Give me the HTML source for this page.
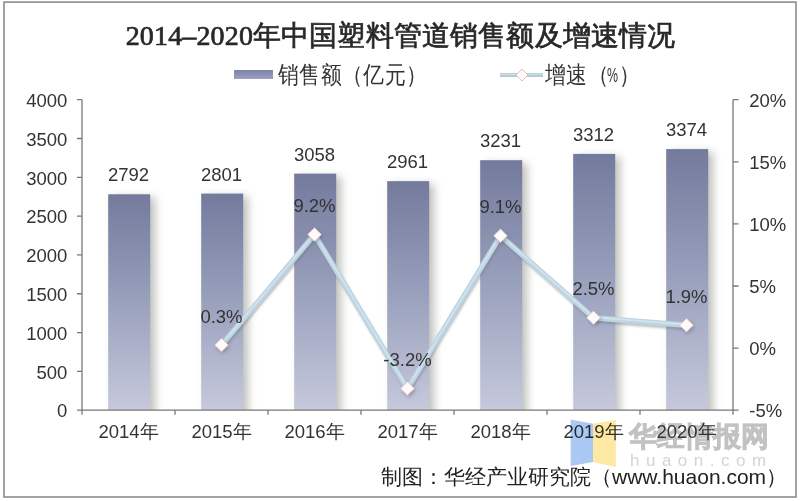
<!DOCTYPE html>
<html><head><meta charset="utf-8"><style>
html,body{margin:0;padding:0;background:#fff;width:800px;height:501px;overflow:hidden}
svg{display:block}
</style></head><body>
<svg width="800" height="501" viewBox="0 0 800 501">
<defs><linearGradient id="bg" x1="0" y1="0" x2="0" y2="1"><stop offset="0" stop-color="#737a9c"/><stop offset="0.5" stop-color="#9aa1bd"/><stop offset="1" stop-color="#c6c9dc"/></linearGradient><linearGradient id="lg" x1="0" y1="0" x2="0" y2="1"><stop offset="0" stop-color="#7d83a3"/><stop offset="1" stop-color="#9ca0c2"/></linearGradient><filter id="sh" x="-50%" y="-50%" width="200%" height="200%"><feGaussianBlur stdDeviation="2"/></filter><filter id="sh0" x="-50%" y="-50%" width="200%" height="200%"><feGaussianBlur stdDeviation="0.6"/></filter><filter id="sh1" x="-50%" y="-50%" width="200%" height="200%"><feGaussianBlur stdDeviation="1.3"/></filter><filter id="sh2" x="-50%" y="-50%" width="200%" height="200%"><feGaussianBlur stdDeviation="4"/></filter><clipPath id="pc"><rect x="0" y="0" width="800" height="410"/></clipPath></defs>
<rect x="4" y="2.1" width="792" height="494.9" fill="none" stroke="#8c8c8c" stroke-width="1.6"/>
<g clip-path="url(#pc)">
<rect x="113.20" y="197.27" width="42" height="223.93" fill="#8c8c86" opacity="0.55" filter="url(#sh2)"/>
<rect x="206.20" y="196.57" width="42" height="224.63" fill="#8c8c86" opacity="0.55" filter="url(#sh2)"/>
<rect x="299.20" y="176.62" width="42" height="244.58" fill="#8c8c86" opacity="0.55" filter="url(#sh2)"/>
<rect x="392.20" y="184.15" width="42" height="237.05" fill="#8c8c86" opacity="0.55" filter="url(#sh2)"/>
<rect x="485.20" y="163.19" width="42" height="258.01" fill="#8c8c86" opacity="0.55" filter="url(#sh2)"/>
<rect x="578.20" y="156.91" width="42" height="264.29" fill="#8c8c86" opacity="0.55" filter="url(#sh2)"/>
<rect x="671.20" y="152.09" width="42" height="269.11" fill="#8c8c86" opacity="0.55" filter="url(#sh2)"/>
</g>
<rect x="108.20" y="194.27" width="42" height="215.93" fill="url(#bg)"/>
<rect x="201.20" y="193.57" width="42" height="216.63" fill="url(#bg)"/>
<rect x="294.20" y="173.62" width="42" height="236.58" fill="url(#bg)"/>
<rect x="387.20" y="181.15" width="42" height="229.05" fill="url(#bg)"/>
<rect x="480.20" y="160.19" width="42" height="250.01" fill="url(#bg)"/>
<rect x="573.20" y="153.91" width="42" height="256.29" fill="url(#bg)"/>
<rect x="666.20" y="149.09" width="42" height="261.11" fill="url(#bg)"/>
<path d="M82,99.7 V414.7 M77,99.70 H82 M77,138.51 H82 M77,177.32 H82 M77,216.14 H82 M77,254.95 H82 M77,293.76 H82 M77,332.57 H82 M77,371.39 H82 M77,410.20 H82 M733,99.7 V410.2 M733,99.70 H738.5 M733,161.80 H738.5 M733,223.90 H738.5 M733,286.00 H738.5 M733,348.10 H738.5 M733,410.20 H738.5 M77,410.2 H738.5 M82.00,410.2 V414.7 M175.00,410.2 V414.7 M268.00,410.2 V414.7 M361.00,410.2 V414.7 M454.00,410.2 V414.7 M547.00,410.2 V414.7 M640.00,410.2 V414.7 M733.00,410.2 V414.7" fill="none" stroke="#787878" stroke-width="1.3"/>
<path d="M221.50,345.07 L314.50,234.54 L407.50,388.54 L500.50,235.78 L593.50,317.75 L686.50,325.20" transform="translate(1,2.5)" fill="none" stroke="#707880" stroke-opacity="0.45" stroke-width="5" filter="url(#sh1)"/>
<path d="M221.50,345.07 L314.50,234.54 L407.50,388.54 L500.50,235.78 L593.50,317.75 L686.50,325.20" fill="none" stroke="#bdd4e2" stroke-width="5.4" stroke-linejoin="round" filter="url(#sh0)"/>
<path d="M221.50,345.07 L314.50,234.54 L407.50,388.54 L500.50,235.78 L593.50,317.75 L686.50,325.20" transform="translate(0,-0.6)" fill="none" stroke="#d2e4ee" stroke-width="1.6" stroke-linejoin="round" filter="url(#sh0)"/>
<path d="M223.00,340.27 L229.80,347.07 L223.00,353.87 L216.20,347.07Z" fill="#505060" opacity="0.4" filter="url(#sh)"/>
<path d="M221.50,338.27 L228.30,345.07 L221.50,351.87 L214.70,345.07Z" fill="#fffafa" stroke="#e8c8c8" stroke-width="0.8"/>
<path d="M316.00,229.74 L322.80,236.54 L316.00,243.34 L309.20,236.54Z" fill="#505060" opacity="0.4" filter="url(#sh)"/>
<path d="M314.50,227.74 L321.30,234.54 L314.50,241.34 L307.70,234.54Z" fill="#fffafa" stroke="#e8c8c8" stroke-width="0.8"/>
<path d="M409.00,383.74 L415.80,390.54 L409.00,397.34 L402.20,390.54Z" fill="#505060" opacity="0.4" filter="url(#sh)"/>
<path d="M407.50,381.74 L414.30,388.54 L407.50,395.34 L400.70,388.54Z" fill="#fffafa" stroke="#e8c8c8" stroke-width="0.8"/>
<path d="M502.00,230.98 L508.80,237.78 L502.00,244.58 L495.20,237.78Z" fill="#505060" opacity="0.4" filter="url(#sh)"/>
<path d="M500.50,228.98 L507.30,235.78 L500.50,242.58 L493.70,235.78Z" fill="#fffafa" stroke="#e8c8c8" stroke-width="0.8"/>
<path d="M595.00,312.95 L601.80,319.75 L595.00,326.55 L588.20,319.75Z" fill="#505060" opacity="0.4" filter="url(#sh)"/>
<path d="M593.50,310.95 L600.30,317.75 L593.50,324.55 L586.70,317.75Z" fill="#fffafa" stroke="#e8c8c8" stroke-width="0.8"/>
<path d="M688.00,320.40 L694.80,327.20 L688.00,334.00 L681.20,327.20Z" fill="#505060" opacity="0.4" filter="url(#sh)"/>
<path d="M686.50,318.40 L693.30,325.20 L686.50,332.00 L679.70,325.20Z" fill="#fffafa" stroke="#e8c8c8" stroke-width="0.8"/>
<rect x="234" y="70" width="39" height="9" fill="url(#lg)"/>
<path d="M500,75 H543" stroke="#b4c8d6" stroke-width="4"/><path d="M500,74.3 H543" stroke="#d0e0ea" stroke-width="1.2"/>
<path d="M522,69 L528,75 L522,81 L516,75Z" fill="#fff" stroke="#e4b4b4" stroke-width="0.9"/>
<text x="629.00" y="446.00" font-family="'Liberation Sans', sans-serif" font-size="27.5" font-weight="bold" text-anchor="start" fill="#bcbcbc" stroke="#bcbcbc" stroke-width="0.9" opacity="0.9">华经情报网</text>
<text x="630.00" y="466.00" font-family="'Liberation Sans', sans-serif" font-size="17" font-weight="normal" text-anchor="start" fill="#d4d4d4" letter-spacing="6.5">huaon.com</text>
<text x="400.50" y="44.80" font-family="'Liberation Serif', serif" font-size="28" font-weight="normal" text-anchor="middle" fill="#282828" letter-spacing="0.15" stroke="#282828" stroke-width="0.7">2014–2020年中国塑料管道销售额及增速情况</text>
<g transform="translate(0,83.5) scale(1,1.15) translate(0,-83.5)">
<text x="278.00" y="83.50" font-family="'Liberation Sans', sans-serif" font-size="21" font-weight="normal" text-anchor="start" fill="#333" >销售额（亿元）</text>
<text x="545.00" y="83.50" font-family="'Liberation Sans', sans-serif" font-size="21" font-weight="normal" text-anchor="start" fill="#333" >增速（</text>
<text x="607.00" y="82.00" font-family="'Liberation Sans', sans-serif" font-size="18" font-weight="normal" text-anchor="start" fill="#333" textLength="11" lengthAdjust="spacingAndGlyphs">%</text>
<text x="619.50" y="83.50" font-family="'Liberation Sans', sans-serif" font-size="21" font-weight="normal" text-anchor="start" fill="#333" >）</text>
</g>
<text x="67.30" y="106.90" font-family="'Liberation Sans', sans-serif" font-size="18.5" font-weight="normal" text-anchor="end" fill="#333" >4000</text>
<text x="67.30" y="145.71" font-family="'Liberation Sans', sans-serif" font-size="18.5" font-weight="normal" text-anchor="end" fill="#333" >3500</text>
<text x="67.30" y="184.52" font-family="'Liberation Sans', sans-serif" font-size="18.5" font-weight="normal" text-anchor="end" fill="#333" >3000</text>
<text x="67.30" y="223.34" font-family="'Liberation Sans', sans-serif" font-size="18.5" font-weight="normal" text-anchor="end" fill="#333" >2500</text>
<text x="67.30" y="262.15" font-family="'Liberation Sans', sans-serif" font-size="18.5" font-weight="normal" text-anchor="end" fill="#333" >2000</text>
<text x="67.30" y="300.96" font-family="'Liberation Sans', sans-serif" font-size="18.5" font-weight="normal" text-anchor="end" fill="#333" >1500</text>
<text x="67.30" y="339.77" font-family="'Liberation Sans', sans-serif" font-size="18.5" font-weight="normal" text-anchor="end" fill="#333" >1000</text>
<text x="67.30" y="378.59" font-family="'Liberation Sans', sans-serif" font-size="18.5" font-weight="normal" text-anchor="end" fill="#333" >500</text>
<text x="67.30" y="417.40" font-family="'Liberation Sans', sans-serif" font-size="18.5" font-weight="normal" text-anchor="end" fill="#333" >0</text>
<text x="749.30" y="106.90" font-family="'Liberation Sans', sans-serif" font-size="18.5" font-weight="normal" text-anchor="start" fill="#333" >20%</text>
<text x="749.30" y="169.00" font-family="'Liberation Sans', sans-serif" font-size="18.5" font-weight="normal" text-anchor="start" fill="#333" >15%</text>
<text x="749.30" y="231.10" font-family="'Liberation Sans', sans-serif" font-size="18.5" font-weight="normal" text-anchor="start" fill="#333" >10%</text>
<text x="749.30" y="293.20" font-family="'Liberation Sans', sans-serif" font-size="18.5" font-weight="normal" text-anchor="start" fill="#333" >5%</text>
<text x="749.30" y="355.30" font-family="'Liberation Sans', sans-serif" font-size="18.5" font-weight="normal" text-anchor="start" fill="#333" >0%</text>
<text x="749.30" y="417.40" font-family="'Liberation Sans', sans-serif" font-size="18.5" font-weight="normal" text-anchor="start" fill="#333" >-5%</text>
<text x="128.50" y="437.50" font-family="'Liberation Sans', sans-serif" font-size="18.5" font-weight="normal" text-anchor="middle" fill="#333" >2014年</text>
<text x="221.50" y="437.50" font-family="'Liberation Sans', sans-serif" font-size="18.5" font-weight="normal" text-anchor="middle" fill="#333" >2015年</text>
<text x="314.50" y="437.50" font-family="'Liberation Sans', sans-serif" font-size="18.5" font-weight="normal" text-anchor="middle" fill="#333" >2016年</text>
<text x="407.50" y="437.50" font-family="'Liberation Sans', sans-serif" font-size="18.5" font-weight="normal" text-anchor="middle" fill="#333" >2017年</text>
<text x="500.50" y="437.50" font-family="'Liberation Sans', sans-serif" font-size="18.5" font-weight="normal" text-anchor="middle" fill="#333" >2018年</text>
<text x="593.50" y="437.50" font-family="'Liberation Sans', sans-serif" font-size="18.5" font-weight="normal" text-anchor="middle" fill="#333" >2019年</text>
<text x="686.50" y="437.50" font-family="'Liberation Sans', sans-serif" font-size="18.5" font-weight="normal" text-anchor="middle" fill="#333" >2020年</text>
<text x="128.50" y="181.27" font-family="'Liberation Sans', sans-serif" font-size="18.5" font-weight="normal" text-anchor="middle" fill="#333" >2792</text>
<text x="221.50" y="180.57" font-family="'Liberation Sans', sans-serif" font-size="18.5" font-weight="normal" text-anchor="middle" fill="#333" >2801</text>
<text x="314.50" y="160.62" font-family="'Liberation Sans', sans-serif" font-size="18.5" font-weight="normal" text-anchor="middle" fill="#333" >3058</text>
<text x="407.50" y="168.15" font-family="'Liberation Sans', sans-serif" font-size="18.5" font-weight="normal" text-anchor="middle" fill="#333" >2961</text>
<text x="500.50" y="147.19" font-family="'Liberation Sans', sans-serif" font-size="18.5" font-weight="normal" text-anchor="middle" fill="#333" >3231</text>
<text x="593.50" y="140.91" font-family="'Liberation Sans', sans-serif" font-size="18.5" font-weight="normal" text-anchor="middle" fill="#333" >3312</text>
<text x="686.50" y="136.09" font-family="'Liberation Sans', sans-serif" font-size="18.5" font-weight="normal" text-anchor="middle" fill="#333" >3374</text>
<text x="221.50" y="322.57" font-family="'Liberation Sans', sans-serif" font-size="18.5" font-weight="normal" text-anchor="middle" fill="#333" >0.3%</text>
<text x="314.50" y="212.04" font-family="'Liberation Sans', sans-serif" font-size="18.5" font-weight="normal" text-anchor="middle" fill="#333" >9.2%</text>
<text x="407.50" y="366.04" font-family="'Liberation Sans', sans-serif" font-size="18.5" font-weight="normal" text-anchor="middle" fill="#333" >-3.2%</text>
<text x="500.50" y="213.28" font-family="'Liberation Sans', sans-serif" font-size="18.5" font-weight="normal" text-anchor="middle" fill="#333" >9.1%</text>
<text x="593.50" y="295.25" font-family="'Liberation Sans', sans-serif" font-size="18.5" font-weight="normal" text-anchor="middle" fill="#333" >2.5%</text>
<text x="686.50" y="302.70" font-family="'Liberation Sans', sans-serif" font-size="18.5" font-weight="normal" text-anchor="middle" fill="#333" >1.9%</text>
<text x="381.00" y="484.00" font-family="'Liberation Sans', sans-serif" font-size="21" font-weight="normal" text-anchor="start" fill="#222" >制图：华经产业研究院（www.huaon.com）</text>
<g style="mix-blend-mode:multiply"><path d="M570.7,419.6 L593,423.8 L593,462 L570.7,466Z" fill="#aac8f2"/><path d="M593,423.8 L615.8,420 L615.8,467 L593,462Z" fill="#fde9a3"/></g>
</svg>
</body></html>
